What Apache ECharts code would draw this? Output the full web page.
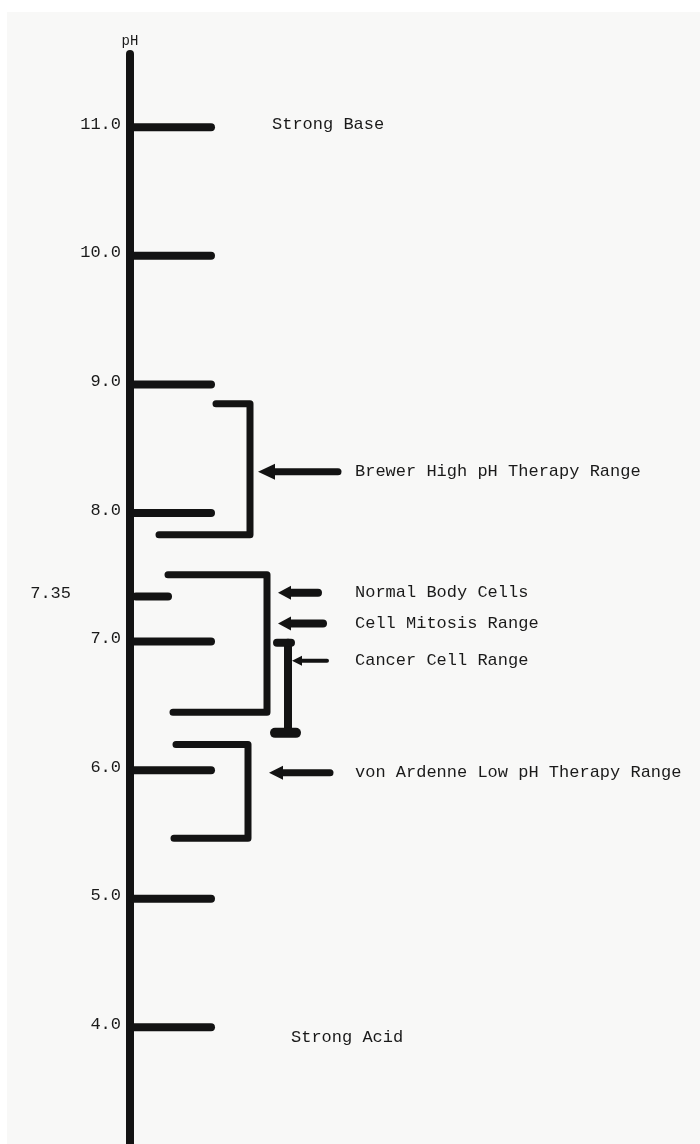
<!DOCTYPE html>
<html>
<head>
<meta charset="utf-8">
<script src="https://cdn.jsdelivr.net/npm/echarts@6/dist/echarts.min.js"></script>
<style>
  html, body { margin: 0; padding: 0; background: #ffffff; }
  #chart { width: 700px; height: 1144px; }
</style>
</head>
<body>
<div id="chart"></div>
<script>
// ---------------- DATA ----------------
const tickValues = [11.0, 10.0, 9.0, 8.0, 7.35, 7.0, 6.0, 5.0, 4.0];
const tickLabels = ['11.0', '10.0', '9.0', '8.0', '7.35', '7.0', '6.0', '5.0', '4.0'];

// bracketed pH ranges
const rangeNames = ['Brewer High pH Therapy Range', 'Normal Body Cells / Cell Mitosis Range', 'Cancer Cell Range', 'von Ardenne Low pH Therapy Range'];
const rangeLow  = [7.83, 6.45, 6.29, 5.47];
const rangeHigh = [8.85, 7.52, 6.99, 6.20];

// annotations (text + arrow level)
const annotationLabels = ['Strong Base', 'Brewer High pH Therapy Range', 'Normal Body Cells', 'Cell Mitosis Range', 'Cancer Cell Range', 'von Ardenne Low pH Therapy Range', 'Strong Acid'];
const annotationPH = [11.02, 8.32, 7.38, 7.14, 6.85, 5.98, 3.92];

const axisName = 'pH';
const axisMin = 3.1;
const axisMax = 11.57;

// ---------------- LAYOUT / STYLE (not data) ----------------
const INK = '#131313';
const TEXT = '#1a1a1a';
const FONT = '"Liberation Mono", "DejaVu Sans Mono", monospace';
// horizontal layout units measured from the pH axis line
const L = {
  tick: [3, 81], minorTick: [6, 38],
  labelX: -9, minorLabelX: -59,
  brackets: [
    { top: [86, 120], bottom: [29, 120], v: 120 },
    { top: [38, 137], bottom: [43, 137], v: 137 },
    { v: 158, topKnob: [147, 161], bottomKnob: [145, 166] },
    { top: [46, 118], bottom: [44, 118], v: 118 }
  ],
  textX: [142, 225, 225, 225, 225, 225, 161],
  arrows: [
    null,
    { tip: 128, tail: 208, shaft: 7, headL: 17, headW: 8 },
    { tip: 148, tail: 188, shaft: 8, headL: 13, headW: 7 },
    { tip: 148, tail: 193, shaft: 8, headL: 13, headW: 7 },
    { tip: 162, tail: 197, shaft: 4, headL: 10, headW: 5 },
    { tip: 139, tail: 200, shaft: 7, headL: 14, headW: 7 },
    null
  ]
};

const chart = echarts.init(document.getElementById('chart'), null, { renderer: 'canvas' });

function renderTick(params, api) {
  const i = api.value(2);
  const pH = api.value(1);
  const minor = tickLabels[i] === '7.35';
  const span = minor ? L.minorTick : L.tick;
  const a = api.coord([span[0], pH]);
  const b = api.coord([span[1], pH]);
  const lp = api.coord([minor ? L.minorLabelX : L.labelX, pH]);
  return {
    type: 'group',
    children: [
      { type: 'line', shape: { x1: a[0], y1: a[1], x2: b[0], y2: b[1] },
        style: { stroke: INK, lineWidth: 8, lineCap: 'round' } },
      { type: 'text', style: { text: tickLabels[i], x: lp[0], y: lp[1] - 3, align: 'right', verticalAlign: 'middle',
        font: '17px ' + FONT, fill: TEXT } }
    ]
  };
}

function renderBracket(params, api) {
  const i = api.value(3);
  const lo = api.value(1), hi = api.value(2);
  const g = L.brackets[i];
  const children = [];
  if (g.top) {
    const p1 = api.coord([g.top[0], hi]);
    const p2 = api.coord([g.v, hi]);
    const p3 = api.coord([g.v, lo]);
    const p4 = api.coord([g.bottom[0], lo]);
    children.push({ type: 'polyline', shape: { points: [p1, p2, p3, p4] },
      style: { stroke: INK, lineWidth: 7, lineCap: 'round', lineJoin: 'round', fill: null } });
  } else {
    const t = api.coord([g.v, hi]);
    const b = api.coord([g.v, lo]);
    children.push({ type: 'line', shape: { x1: t[0], y1: t[1], x2: b[0], y2: b[1] },
      style: { stroke: INK, lineWidth: 8, lineCap: 'round' } });
    const k1 = api.coord([g.topKnob[0], hi]), k2 = api.coord([g.topKnob[1], hi]);
    children.push({ type: 'line', shape: { x1: k1[0], y1: k1[1], x2: k2[0], y2: k2[1] },
      style: { stroke: INK, lineWidth: 8, lineCap: 'round' } });
    const m1 = api.coord([g.bottomKnob[0], lo]), m2 = api.coord([g.bottomKnob[1], lo]);
    children.push({ type: 'line', shape: { x1: m1[0], y1: m1[1], x2: m2[0], y2: m2[1] },
      style: { stroke: INK, lineWidth: 10, lineCap: 'round' } });
  }
  return { type: 'group', children };
}

function renderAnnotation(params, api) {
  const i = api.value(2);
  const pH = api.value(1);
  const children = [];
  const tp = api.coord([L.textX[i], pH]);
  children.push({ type: 'text', style: { text: annotationLabels[i], x: tp[0], y: tp[1], align: 'left', verticalAlign: 'middle',
    font: '17px ' + FONT, fill: TEXT } });
  const a = L.arrows[i];
  if (a) {
    const tip = api.coord([a.tip, pH]);
    const tail = api.coord([a.tail, pH]);
    const hx = tip[0] + a.headL;
    children.push({ type: 'line', shape: { x1: hx - 2, y1: tip[1], x2: tail[0], y2: tail[1] },
      style: { stroke: INK, lineWidth: a.shaft, lineCap: 'round' } });
    children.push({ type: 'polygon', shape: { points: [[tip[0], tip[1]], [hx, tip[1] - a.headW], [hx, tip[1] + a.headW]] },
      style: { fill: INK } });
  }
  return { type: 'group', children };
}

const option = {
  backgroundColor: '#ffffff',
  animation: false,
  graphic: [{ type: 'rect', left: 7, top: 12, shape: { width: 693, height: 1132 }, style: { fill: '#f8f8f7' }, z: -10 }],
  grid: { left: 130, right: 0, top: 54, bottom: 1, containLabel: false, outerBoundsMode: 'none' },
  xAxis: { type: 'value', min: 0, max: 570, show: false },
  yAxis: {
    type: 'value', min: axisMin, max: axisMax,
    name: axisName, nameLocation: 'end', nameGap: 6,
    nameTextStyle: { fontFamily: FONT, fontSize: 14, color: TEXT, align: 'center', padding: [0, 0, 0, 0] },
    axisLine: { show: true, lineStyle: { color: INK, width: 8, cap: 'round' } },
    axisTick: { show: false }, axisLabel: { show: false }, splitLine: { show: false }
  },
  series: [
    { type: 'custom', name: 'ticks', coordinateSystem: 'cartesian2d', clip: false, silent: true,
      data: tickValues.map((v, i) => [0, v, i]), encode: { x: 0, y: 1 }, renderItem: renderTick },
    { type: 'custom', name: 'ranges', coordinateSystem: 'cartesian2d', clip: false, silent: true,
      data: rangeLow.map((v, i) => [0, v, rangeHigh[i], i, rangeNames[i]]), encode: { x: 0, y: [1, 2] }, renderItem: renderBracket },
    { type: 'custom', name: 'annotations', coordinateSystem: 'cartesian2d', clip: false, silent: true,
      data: annotationPH.map((v, i) => [0, v, i]), encode: { x: 0, y: 1 }, renderItem: renderAnnotation }
  ]
};
chart.setOption(option);
</script>
</body>
</html>
